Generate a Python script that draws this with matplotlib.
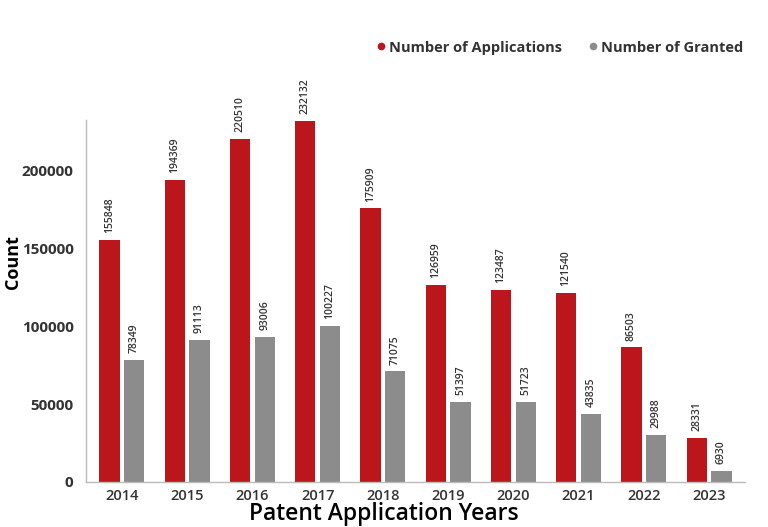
import matplotlib
matplotlib.use("Agg")
import matplotlib.pyplot as plt
import numpy as np
from matplotlib.lines import Line2D

years = ["2014", "2015", "2016", "2017", "2018", "2019", "2020", "2021", "2022", "2023"]
applications = [155848, 194369, 220510, 232132, 175909, 126959, 123487, 121540, 86503, 28331]
granted = [78349, 91113, 93006, 100227, 71075, 51397, 51723, 43835, 29988, 6930]
yticks = [0, 50000, 100000, 150000, 200000]

RED = "#BA161C"
GRAY = "#8C8C8C"
TXT = "#333333"

plt.rcParams['font.family'] = ['Open Sans', 'DejaVu Sans']

fig = plt.figure(figsize=(7.68, 5.27), dpi=100)
ax = fig.add_axes([0.112, 0.0854, 0.858, 0.687])

x = np.arange(len(years))
w = 0.31
off = 0.19
b1 = ax.bar(x - off, applications, w, color=RED, zorder=2)
b2 = ax.bar(x + off, granted, w, color=GRAY, zorder=2)

for bars, vals in ((b1, applications), (b2, granted)):
    for r, v in zip(bars, vals):
        ax.annotate(str(v), (r.get_x() + r.get_width() / 2, r.get_height()),
                    xytext=(0, 5), textcoords="offset points", rotation=90,
                    ha="center", va="bottom", fontsize=7.5, color=TXT, fontweight="semibold")

ax.set_xlim(-0.55, 9.55)
ax.set_ylim(0, max(applications) * 1.003)
ax.set_xticks(x)
ax.set_xticklabels(years, fontsize=10.5, color=TXT, fontweight="semibold")
ax.set_yticks(yticks)
ax.set_yticklabels([str(t) for t in yticks], fontsize=11, color=TXT, fontweight="bold")
ax.tick_params(axis="x", length=0, pad=5)
ax.tick_params(axis="y", length=0, pad=9)

for s in ("top", "right"):
    ax.spines[s].set_visible(False)
for s in ("left", "bottom"):
    ax.spines[s].set_color("#BBBBBB")
    ax.spines[s].set_linewidth(1)

fig.text(0.017, 0.503, "Count", rotation=90, ha="center", va="center",
         fontsize=13, fontweight="bold", color="black")
fig.text(0.5, 0.025, "Patent Application Years", ha="center", va="center",
         fontsize=16.5, fontweight="semibold", color="black")

handles = [Line2D([], [], marker="o", linestyle="", color=RED, markersize=4.5),
           Line2D([], [], marker="o", linestyle="", color=GRAY, markersize=4.5)]
fig.legend(handles, ["Number of Applications", "Number of Granted"], loc="upper right",
           bbox_to_anchor=(0.985, 0.948), ncol=2, frameon=False,
           prop={"weight": "bold", "size": 10.5}, handletextpad=-0.2, columnspacing=1.4,
           handlelength=1.5, labelcolor=TXT)

fig.savefig("out.png", dpi=100)
